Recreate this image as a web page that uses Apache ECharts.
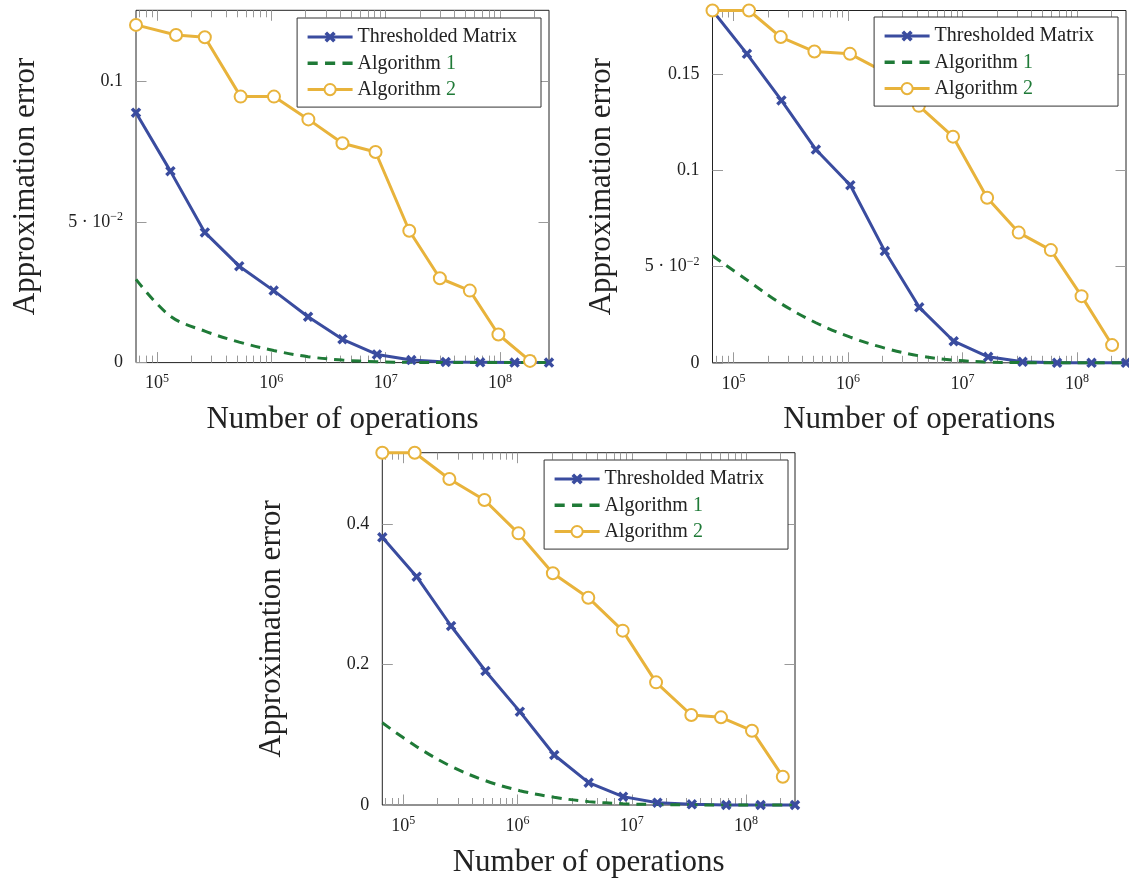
<!DOCTYPE html>
<html>
<head>
<meta charset="utf-8">
<script src="https://cdn.jsdelivr.net/npm/echarts@6/dist/echarts.min.js"></script>
<style>
html, body { margin: 0; padding: 0; background: #fff; }
#main { width: 1129px; height: 881px; }
</style>
</head>
<body>
<div id="main"></div>
<script>
// number of operations (x)
var opsGrid = [65536, 131072, 262144, 524288, 1048576, 2097152, 4194304, 8388608,
  16777216, 33554432, 67108864, 134217728, 268435456];
var opsAlg2A = [65536, 146800, 262144, 538900, 1055000, 2110000, 4190000, 8160000,
  16100000, 29800000, 54500000, 96900000, 183000000];
var opsAlg2B = [65536, 136600, 258500, 509000, 1041000, 2069000, 4165000, 8270000,
  16430000, 31000000, 59200000, 109800000, 203000000];
var opsAlg2C = [65536, 125900, 253200, 513600, 1019000, 2039000, 4165000, 8330000,
  16320000, 33200000, 60400000, 112800000, 210000000];

// approximation error, top-left chart
var threshA = [0.0889, 0.0681, 0.0463, 0.0343, 0.0256, 0.0163, 0.0083, 0.0029, 0.0009, 0.0002, 0.0001, 0, 0];
var alg1A = [0.0296, 0.0165, 0.0112, 0.0073, 0.0043, 0.0021, 0.0009, 0.0003, 0.0001, 0, 0, 0, 0];
var alg2A = [0.1201, 0.1165, 0.1157, 0.0946, 0.0946, 0.0865, 0.0780, 0.0749, 0.0469, 0.0300, 0.0256, 0.0100, 0.0006];

// top-right chart
var threshB = [0.1829, 0.1604, 0.1362, 0.1107, 0.0922, 0.0580, 0.0288, 0.0112, 0.0031, 0.0005, 0, 0, 0];
var alg1B = [0.0556, 0.0430, 0.0306, 0.0208, 0.0133, 0.0076, 0.0036, 0.0014, 0.0004, 0.0001, 0, 0, 0];
var alg2B = [0.1829, 0.1829, 0.1691, 0.1616, 0.1604, 0.1510, 0.1334, 0.1174, 0.0857, 0.0676, 0.0585, 0.0346, 0.0092];

// bottom chart
var threshC = [0.381, 0.325, 0.2548, 0.1907, 0.1329, 0.0712, 0.0318, 0.0119, 0.0033, 0.0010, 0, 0, 0];
var alg1C = [0.117, 0.083, 0.0550, 0.0346, 0.0204, 0.0110, 0.0048, 0.0019, 0.0006, 0.0002, 0, 0, 0];
var alg2C = [0.5015, 0.5015, 0.4640, 0.4342, 0.3867, 0.3298, 0.2951, 0.2482, 0.1746, 0.1281, 0.1248, 0.1058, 0.0403];

var seriesNames = ['Thresholded Matrix', 'Algorithm 1', 'Algorithm 2'];
var xMajor = [1e5, 1e6, 1e7, 1e8];
var xMinor = [7e4, 8e4, 9e4, 2e5, 3e5, 4e5, 5e5, 6e5, 7e5, 8e5, 9e5,
  2e6, 3e6, 4e6, 5e6, 6e6, 7e6, 8e6, 9e6, 2e7, 3e7, 4e7, 5e7, 6e7, 7e7, 8e7, 9e7, 2e8];
var yTicksA = [0, 0.05, 0.1];
var yTicksB = [0, 0.05, 0.1, 0.15];
var yTicksC = [0, 0.2, 0.4];

var FONT = '"Liberation Serif", "DejaVu Serif", serif';
var BLUE = '#3a4c9f', GREEN = '#1f7a37', ORANGE = '#e8b33b';
var TXT = '#222', TICK = '#9a9a9a';
var CROSS = 'path://M0,2.3L2.3,0L5,2.7L7.7,0L10,2.3L7.3,5L10,7.7L7.7,10L5,7.3L2.3,10L0,7.7L2.7,5Z';
var DASHES = 'path://M0,0h9v3h-9zM15.5,0h9v3h-9zM31,0h9v3h-9z';

function pairs(xs, ys) {
  return xs.map(function (x, i) { return [x, ys[i]]; });
}

function yFmt(v) {
  if (Math.abs(v - 0.05) < 1e-9) return '{b|5 · 10}{s|−2}';
  return '{b|' + v + '}';
}

var labelRich = {
  b: { fontFamily: FONT, fontSize: 18, color: TXT, lineHeight: 22 },
  s: { fontFamily: FONT, fontSize: 12, color: TXT, lineHeight: 12, verticalAlign: 'top' }
};

var panels = [
  { left: 136, top: 10.3, width: 413, yMax: 0.1253, yTicks: yTicksA, legendRight: 588, legendTop: 18,
    thresh: threshA, alg1: alg1A, alg2: alg2A, ops2: opsAlg2A },
  { left: 712.5, top: 10.5, width: 413.5, yMax: 0.1829, yTicks: yTicksB, legendRight: 11, legendTop: 17,
    thresh: threshB, alg1: alg1B, alg2: alg2B, ops2: opsAlg2B },
  { left: 382.3, top: 452.7, width: 412.7, yMax: 0.5015, yTicks: yTicksC, legendRight: 341, legendTop: 460,
    thresh: threshC, alg1: alg1C, alg2: alg2C, ops2: opsAlg2C }
];

var option = { animation: false, grid: [], xAxis: [], yAxis: [], legend: [], series: [] };

panels.forEach(function (p, i) {
  option.grid.push({
    left: p.left, top: p.top, width: p.width, height: 352.3,
    show: true, borderColor: '#222', borderWidth: 1, backgroundColor: 'transparent'
  });

  function xAxis(pos, ticks, len, withLabel) {
    var ax = {
      type: 'log', logBase: 10, gridIndex: i, position: pos,
      min: opsGrid[0], max: opsGrid[opsGrid.length - 1],
      axisLine: { show: false, onZero: false },
      splitLine: { show: false },
      axisTick: { show: true, inside: true, length: len, customValues: ticks, lineStyle: { color: TICK } },
      axisLabel: { show: false }
    };
    if (withLabel) {
      ax.axisLabel = {
        show: true, customValues: xMajor, margin: 10,
        formatter: function (v) { return '{b|10}{s|' + Math.round(Math.log10(v)) + '}'; },
        rich: labelRich
      };
      ax.name = 'Number of operations';
      ax.nameLocation = 'middle';
      ax.nameGap = 42;
      ax.nameTextStyle = { fontFamily: FONT, fontSize: 31, color: TXT };
    }
    return ax;
  }
  option.xAxis.push(xAxis('bottom', xMajor, 10.5, true));
  option.xAxis.push(xAxis('bottom', xMinor, 7, false));
  option.xAxis.push(xAxis('top', xMajor, 10.5, false));
  option.xAxis.push(xAxis('top', xMinor, 7, false));

  option.yAxis.push({
    type: 'value', gridIndex: i, position: 'left', min: 0, max: p.yMax,
    axisLine: { show: false, onZero: false },
    splitLine: { show: false },
    axisTick: { show: true, inside: true, length: 10.5, customValues: p.yTicks, lineStyle: { color: TICK } },
    axisLabel: { show: true, customValues: p.yTicks, margin: 13, formatter: yFmt, rich: labelRich },
    name: 'Approximation error', nameLocation: 'middle', nameGap: 95,
    nameTextStyle: { fontFamily: FONT, fontSize: 31, color: TXT }
  });
  option.yAxis.push({
    type: 'value', gridIndex: i, position: 'right', min: 0, max: p.yMax,
    axisLine: { show: false, onZero: false },
    splitLine: { show: false },
    axisTick: { show: true, inside: true, length: 10.5, customValues: p.yTicks, lineStyle: { color: TICK } },
    axisLabel: { show: false }
  });

  option.legend.push({
    data: [seriesNames[0], { name: seriesNames[1], icon: DASHES }, seriesNames[2]],
    orient: 'vertical', right: p.legendRight, top: p.legendTop,
    backgroundColor: '#fff', borderColor: '#333', borderWidth: 1,
    padding: [9, 24, 7.5, 9], itemWidth: 45, itemHeight: 14, itemGap: 6.3,
    selectedMode: false,
    lineStyle: { width: 3 },
    textStyle: {
      fontFamily: FONT, fontSize: 20, color: TXT, lineHeight: 20,
      rich: {
        t: { fontFamily: FONT, fontSize: 20, color: TXT },
        n: { fontFamily: FONT, fontSize: 20, color: GREEN }
      }
    },
    formatter: function (name) {
      var m = name.match(/^(Algorithm )(\d)$/);
      return m ? '{t|' + m[1] + '}{n|' + m[2] + '}' : '{t|' + name + '}';
    }
  });

  var xi = i * 4, yi = i * 2;
  option.series.push({
    name: seriesNames[0], type: 'line', xAxisIndex: xi, yAxisIndex: yi, clip: false,
    data: pairs(opsGrid, p.thresh),
    symbol: CROSS, symbolSize: 10.5, showAllSymbol: true,
    lineStyle: { color: BLUE, width: 3 }, itemStyle: { color: BLUE }
  });
  option.series.push({
    name: seriesNames[1], type: 'line', xAxisIndex: xi, yAxisIndex: yi, clip: false,
    data: pairs(opsGrid, p.alg1),
    symbol: 'none', smooth: 0.35,
    lineStyle: { color: GREEN, width: 3, type: [10, 7] }, itemStyle: { color: GREEN }
  });
  option.series.push({
    name: seriesNames[2], type: 'line', xAxisIndex: xi, yAxisIndex: yi, clip: false,
    data: pairs(p.ops2, p.alg2),
    symbol: 'emptyCircle', symbolSize: 12, showAllSymbol: true,
    lineStyle: { color: ORANGE, width: 3 }, itemStyle: { color: ORANGE, borderWidth: 2.6 }
  });
});

var chart = echarts.init(document.getElementById('main'));
chart.setOption(option);
</script>
</body>
</html>
